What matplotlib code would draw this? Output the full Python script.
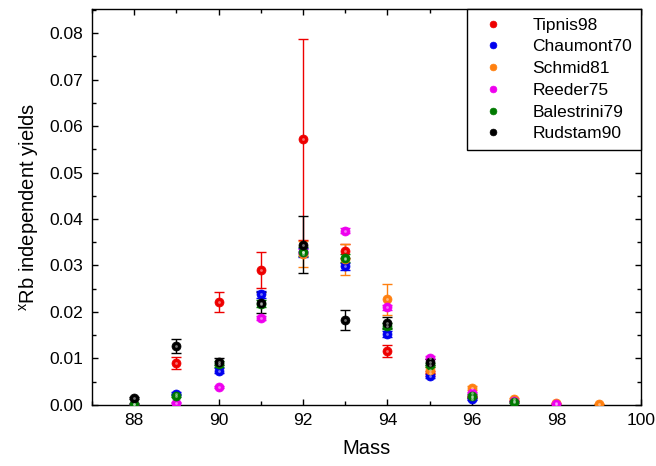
import matplotlib
matplotlib.use('Agg')
import matplotlib.pyplot as plt
from matplotlib.ticker import MultipleLocator

plt.rcParams['font.family'] = ['Liberation Sans', 'DejaVu Sans']
plt.rcParams['mathtext.fontset'] = 'custom'
plt.rcParams['mathtext.rm'] = 'Liberation Sans'
plt.rcParams['mathtext.it'] = 'Liberation Sans'

# mass, yield, error for each data set
tipnis_mass = [89, 90, 91, 92, 93, 94, 95, 96]
tipnis_y = [0.0091, 0.0222, 0.0290, 0.0571, 0.0332, 0.0117, 0.0068, 0.0017]
tipnis_err = [0.0013, 0.0021, 0.0038, 0.0216, 0.0015, 0.0013, 0.0005, 0.0003]

chaumont_mass = [89, 90, 91, 92, 93, 94, 95, 96]
chaumont_y = [0.0024, 0.0074, 0.0238, 0.0328, 0.0298, 0.0152, 0.0063, 0.0012]
chaumont_err = [0.0003, 0.0005, 0.0007, 0.0010, 0.0008, 0.0006, 0.0004, 0.0002]

schmid_mass = [92, 93, 94, 95, 96, 97, 98, 99]
schmid_y = [0.0324, 0.0313, 0.0227, 0.0075, 0.0036, 0.0012, 0.0004, 0.0002]
schmid_err = [0.0028, 0.0034, 0.0034, 0.0006, 0.0004, 0.0002, 0.0001, 0.0001]

reeder_mass = [88, 89, 90, 91, 92, 93, 94, 95, 96, 97, 98]
reeder_y = [0.0001, 0.0005, 0.0039, 0.0187, 0.0330, 0.0375, 0.0210, 0.0102, 0.0025, 0.0008, 0.0003]
reeder_err = [0.0001, 0.0001, 0.0002, 0.0004, 0.0005, 0.0005, 0.0005, 0.0004, 0.0003, 0.0001, 0.0001]

balestrini_mass = [88, 89, 90, 91, 92, 93, 94, 95, 96, 97]
balestrini_y = [0.0003, 0.0020, 0.0088, 0.0218, 0.0330, 0.0316, 0.0170, 0.0086, 0.0020, 0.0006]
balestrini_err = [0.0001, 0.0003, 0.0006, 0.0008, 0.0010, 0.0009, 0.0007, 0.0005, 0.0003, 0.0002]

rudstam_mass = [88, 89, 90, 91, 92, 93, 94, 95]
rudstam_y = [0.0015, 0.0127, 0.0093, 0.0220, 0.0345, 0.0183, 0.0177, 0.0092]
rudstam_err = [0.0003, 0.0015, 0.0008, 0.0022, 0.0062, 0.0022, 0.0012, 0.0007]

sets = [
    ('Tipnis98', tipnis_mass, tipnis_y, tipnis_err, '#ee0000'),
    ('Chaumont70', chaumont_mass, chaumont_y, chaumont_err, '#0000ee'),
    ('Schmid81', schmid_mass, schmid_y, schmid_err, '#ff8010'),
    ('Reeder75', reeder_mass, reeder_y, reeder_err, '#ee00ee'),
    ('Balestrini79', balestrini_mass, balestrini_y, balestrini_err, '#007a00'),
    ('Rudstam90', rudstam_mass, rudstam_y, rudstam_err, '#000000'),
]

fig = plt.figure(figsize=(6.56, 4.66), dpi=100)
ax = fig.add_axes([0.140, 0.131, 0.837, 0.850])

for name, m, y, e, c in sets:
    ax.errorbar(m, y, yerr=e, fmt='none', ecolor=c, elinewidth=1.0,
                capsize=3.5, capthick=1.0, zorder=2)
    ax.plot(m, y, 'o', color=c, markersize=6.5, markeredgecolor=c,
            markeredgewidth=0.5, label=name, zorder=3)
    # small highlight to mimic the shaded balls
    ax.plot(m, y, 'o', color='white', alpha=0.45, markersize=2.0,
            markeredgewidth=0, zorder=4)

ax.set_xlim(87, 100)
ax.set_ylim(0, 0.0852)
ax.xaxis.set_major_locator(MultipleLocator(2))
ax.xaxis.set_minor_locator(MultipleLocator(1))
ax.yaxis.set_major_locator(MultipleLocator(0.01))
ax.yaxis.set_minor_locator(MultipleLocator(0.005))
ax.yaxis.set_major_formatter(plt.FormatStrFormatter('%.2f'))
ax.tick_params(which='both', direction='in', top=True, right=True,
               labeltop=False, labelright=False, width=1.0)
ax.tick_params(which='major', length=4.5, labelsize=12.5, pad=6)
ax.tick_params(which='minor', length=3)
for s in ax.spines.values():
    s.set_linewidth(1.0)

ax.set_xlabel('Mass', fontsize=14.5, labelpad=8)
ax.set_ylabel(r'$^{\mathrm{x}}$Rb independent yields', fontsize=14.5, labelpad=6)

leg = ax.legend(loc='upper right', fontsize=12.5, frameon=True, fancybox=False,
                edgecolor='black', framealpha=1, markerscale=0.75,
                borderaxespad=0, handletextpad=1.3, labelspacing=0.38,
                borderpad=0.5, handlelength=2.0)
leg.get_frame().set_linewidth(1.0)

fig.savefig('out.png', dpi=100)
